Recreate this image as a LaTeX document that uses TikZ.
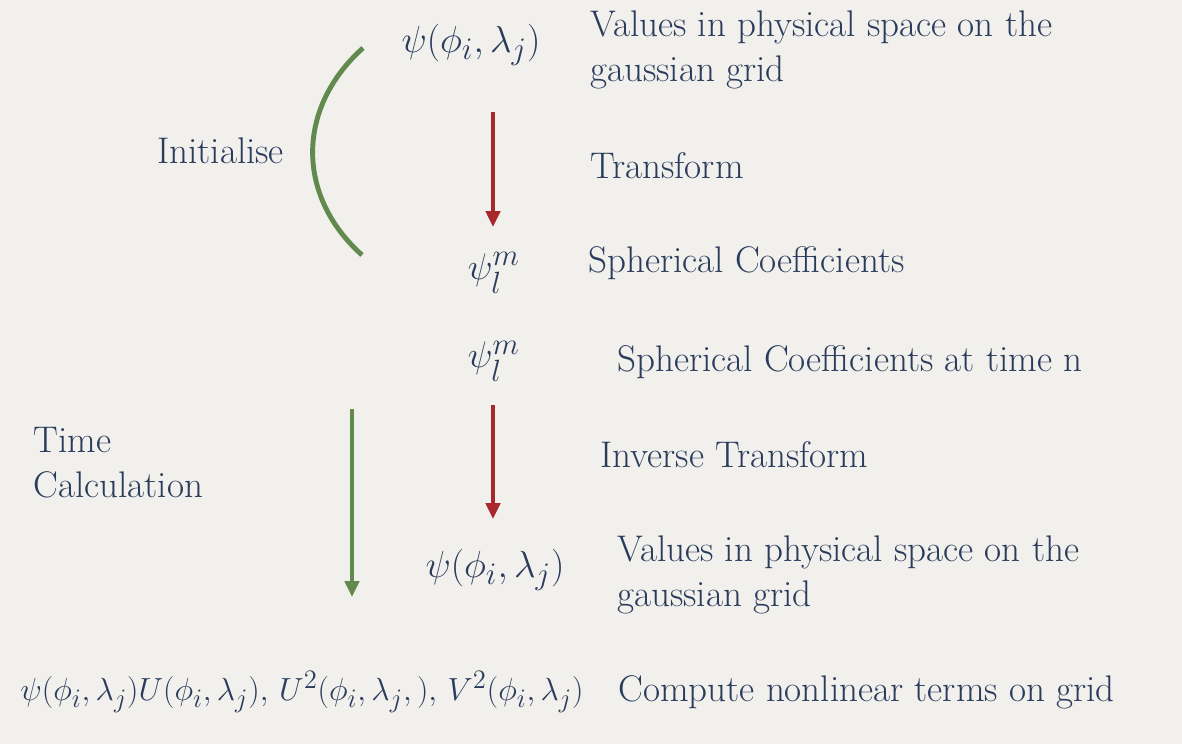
\documentclass[tikz,border=0pt]{standalone}
\usepackage{amsmath}
\usetikzlibrary{arrows.meta}
\definecolor{bgpaper}{RGB}{242,240,236}
\definecolor{inkblue}{RGB}{42,60,92}
\definecolor{arrowred}{RGB}{168,40,46}
\definecolor{leafgreen}{RGB}{98,138,78}
\tikzset{
  txt/.style={inkblue,anchor=west,inner sep=0pt,align=left,
    font=\fontsize{21.1}{25.5}\selectfont},
  eqn/.style={inkblue,inner sep=0pt,font=\fontsize{19}{24}\selectfont,
    transform shape,scale=1.24},
  redarrow/.style={arrowred,line width=2.2pt,-{Triangle[length=9pt,width=8pt]}},
  greenarrow/.style={leafgreen,line width=2.2pt,-{Triangle[length=9pt,width=8pt]}},
}
\begin{document}
\begin{tikzpicture}[x=0.02cm,y=-0.02cm]
\fill[bgpaper] (0,0) rectangle (1182,744);
\useasboundingbox (0,0) rectangle (1182,744);
\node[eqn] (grid1) at (471,45) {$\psi(\phi_i,\lambda_j)$};
\node[txt] (vals1) at (590,50) {Values in physical space on the\\gaussian grid};
\node[txt] (init) at (157,151) {Initialise};
\node[txt] (trans) at (590,166) {Transform};
\node[eqn,scale=0.98] (coef1) at (494,273) {$\psi^m_l$};
\node[txt] (sph1) at (588,263) {Spherical Coefficients};
\node[eqn,scale=0.98] (coef2) at (494,361) {$\psi^m_l$};
\node[txt] (sph2) at (617,362) {Spherical Coefficients at time n};
\node[txt] (time) at (33,463) {Time\\Calculation};
\node[txt] (inv) at (600,455) {Inverse Transform};
\node[eqn] (grid2) at (495,570) {$\psi(\phi_i,\lambda_j)$};
\node[txt] (vals2) at (617,575) {Values in physical space on the\\gaussian grid};
\node[eqn,scale=0.85] (nonlin) at (302,692) {$\psi(\phi_i,\lambda_j)U(\phi_i,\lambda_j),\,U^2(\phi_i,\lambda_{j},),\,V^2(\phi_i,\lambda_j)$};
\node[txt] (comp) at (618,692) {Compute nonlinear terms on grid};
\coordinate (t1a) at (493,112);
\coordinate (t1b) at (493,227);
\coordinate (t2a) at (493,405);
\coordinate (t2b) at (493,519);
\coordinate (tca) at (352,409);
\coordinate (tcb) at (352,597);
\coordinate (arca) at (363,48);
\coordinate (arcb) at (362,255);
\draw[redarrow] (t1a) -- (t1b);
\draw[redarrow] (t2a) -- (t2b);
\draw[greenarrow] (tca) -- (tcb);
\draw[leafgreen,line width=2.8pt] (arca) .. controls (296,108) and (296,196) .. (arcb);
\end{tikzpicture}
\end{document}
